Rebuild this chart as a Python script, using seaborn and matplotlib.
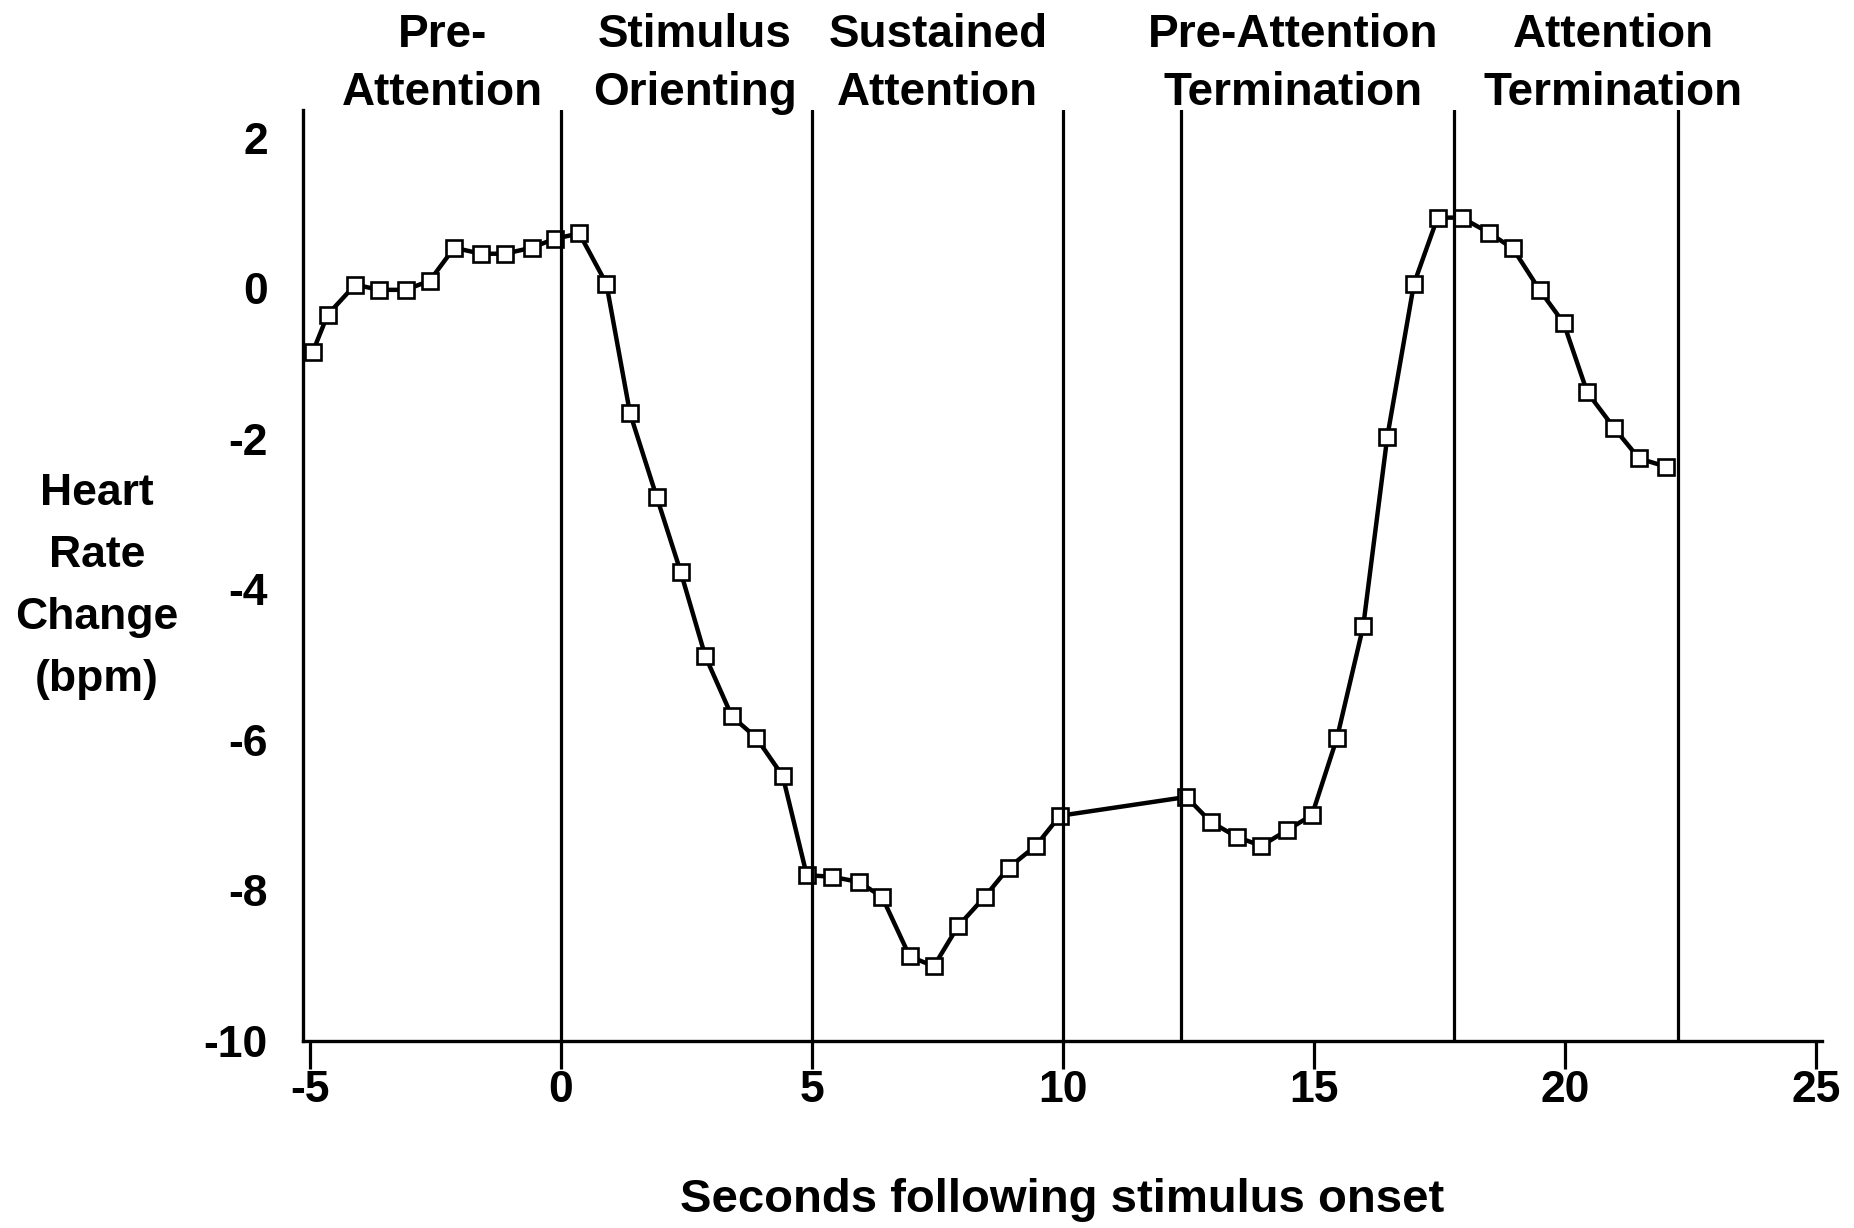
import matplotlib
matplotlib.use("Agg")
import matplotlib.pyplot as plt
import seaborn as sns
import pandas as pd

# heart rate change (bpm) vs seconds after stimulus onset
seconds = [-4.94, -4.64, -4.09, -3.62, -3.09, -2.61, -2.12, -1.59, -1.11, -0.58, -0.11,
           0.37, 0.91, 1.38, 1.91, 2.39, 2.88, 3.41, 3.89, 4.42, 4.90,
           5.40, 5.94, 6.40, 6.95, 7.43, 7.91, 8.44, 8.92, 9.46, 9.94,
           12.46, 12.94, 13.46, 13.95, 14.47, 14.96,
           15.46, 15.98, 16.46, 16.99, 17.46,
           17.94, 18.48, 18.96, 19.49, 19.97, 20.44, 20.98, 21.47, 22.01]
hr_change = [-0.85, -0.35, 0.05, -0.02, -0.02, 0.10, 0.54, 0.46, 0.46, 0.54, 0.66,
             0.73, 0.06, -1.66, -2.77, -3.77, -4.89, -5.69, -5.97, -6.48, -7.80,
             -7.82, -7.89, -8.09, -8.88, -9.01, -8.48, -8.09, -7.70, -7.41, -7.01,
             -6.76, -7.09, -7.29, -7.41, -7.20, -7.00,
             -5.97, -4.49, -1.97, 0.06, 0.94,
             0.94, 0.74, 0.53, -0.02, -0.46, -1.38, -1.86, -2.26, -2.37]

# phase boundaries and phase names
boundaries = [0, 5, 10, 12.36, 17.78, 22.24]
phase_labels = ["Pre-\nAttention", "Stimulus\nOrienting", "Sustained\nAttention",
                "Pre-Attention\nTermination", "Attention\nTermination"]
phase_label_x = [-2.35, 2.67, 7.51, 14.58, 20.96]

x_ticks = [-5, 0, 5, 10, 15, 20, 25]
y_ticks = [-10, -8, -6, -4, -2, 0, 2]

sns.set_style("white")
plt.rcParams['font.family'] = ['Liberation Sans', 'DejaVu Sans']
plt.rcParams['font.weight'] = 'bold'
plt.rcParams['text.color'] = 'black'
plt.rcParams['axes.labelcolor'] = 'black'
plt.rcParams['xtick.color'] = 'black'
plt.rcParams['ytick.color'] = 'black'
plt.rcParams['xtick.major.size'] = 20
plt.rcParams['xtick.major.width'] = 2.3

df = pd.DataFrame({'sec': seconds, 'hr': hr_change})

fig = plt.figure(figsize=(18.54, 12.28), dpi=100)
ax = fig.add_axes([0.1632, 0.1525, 0.8194, 0.7579])

sns.lineplot(data=df, x='sec', y='hr', estimator=None, sort=False, ax=ax,
             color='black', linewidth=3.2, marker='s', markersize=11.2,
             markerfacecolor='white', markeredgecolor='black', markeredgewidth=1.9,
             zorder=2)

# phase boundary lines
for b in boundaries:
    ax.axvline(b, color='black', linewidth=2.3, zorder=4)

ax.set_xlim(-5.14, 25.11)
ax.set_ylim(-10, 2.37)
ax.set_xticks(x_ticks)
ax.set_yticks(y_ticks)
ax.set_xticklabels([str(t) for t in x_ticks])
ax.set_yticklabels([str(t) for t in y_ticks])

for side in ['top', 'right']:
    ax.spines[side].set_visible(False)
for side in ['left', 'bottom']:
    ax.spines[side].set_linewidth(2.4)
    ax.spines[side].set_color('black')

ax.tick_params(axis='x', bottom=True, direction='out', length=20, width=2.3, pad=1,
               labelsize=32, colors='black')
ax.tick_params(axis='y', left=False, length=0, pad=25, labelsize=32, colors='black')

ax.set_xlabel('Seconds following stimulus onset', fontsize=34, fontweight='bold')
ax.xaxis.label.set_va('center')
ax.xaxis.set_label_coords(0.5, -0.171)
ax.set_ylabel('')

fig.text(0.0523, 0.5225, 'Heart\nRate\nChange\n(bpm)', ha='center', va='center',
         multialignment='center', fontsize=32, fontweight='bold', linespacing=1.66)

# phase names above the plot
trans = matplotlib.transforms.blended_transform_factory(ax.transData, fig.transFigure)
for lbl, xp in zip(phase_labels, phase_label_x):
    ax.text(xp, 0.948, lbl, transform=trans, ha='center', va='center',
            multialignment='center', fontsize=33, fontweight='bold', linespacing=1.4)

fig.savefig('out.png', dpi=100)
